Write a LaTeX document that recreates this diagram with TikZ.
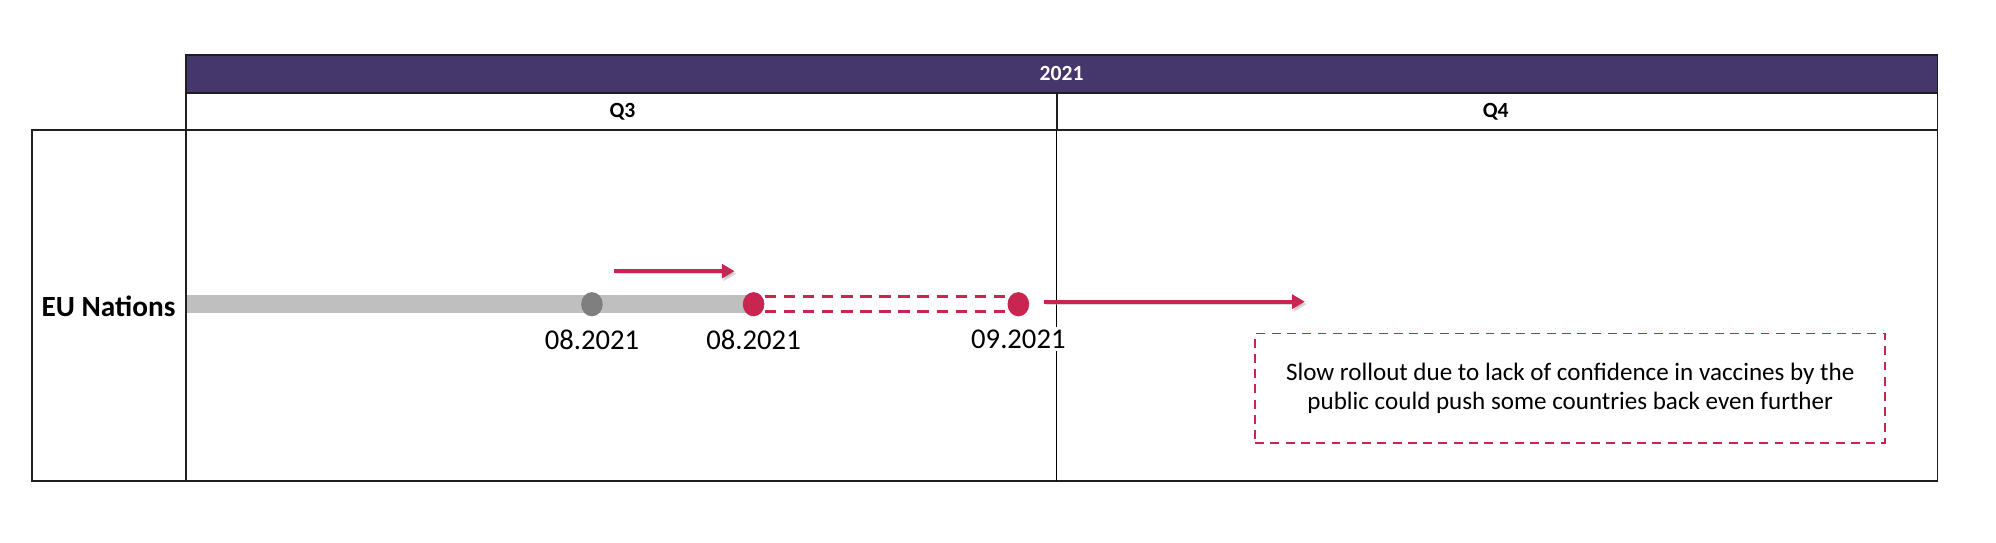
\documentclass[tikz,border=0pt]{standalone}
\usepackage{fontspec}
\setmainfont{Carlito}
\usetikzlibrary{arrows.meta,positioning,backgrounds,shapes.geometric}

\definecolor{hdrpurple}{RGB}{69,54,108}
\definecolor{crim}{RGB}{200,37,80}
\definecolor{bargrey}{RGB}{191,191,191}
\definecolor{dotgrey}{RGB}{127,127,127}

\tikzset{
  frame/.style={line width=1.5pt, draw=black!88},
  hdrtxt/.style={font=\fontsize{17}{20}\selectfont\bfseries, inner sep=0pt},
  rowlbl/.style={font=\fontsize{23}{27}\selectfont\bfseries, inner sep=0pt},
  dot/.style={ellipse, minimum width=17pt, minimum height=19pt, inner sep=0pt},
  datelbl/.style={font=\fontsize{22.5}{26}\selectfont, fill=white, inner sep=2pt},
  movearrow/.style={crim, line width=3pt, -{Triangle[length=10pt,width=11pt]},
    preaction={draw=black!30, opacity=0.5, transform canvas={shift={(1.5pt,-2pt)}}}},
  notebox/.style={draw=crim, line width=1.3pt, dash pattern=on 7pt off 5pt,
    minimum width=495pt, minimum height=86pt, align=center,
    font=\fontsize{19.7}{22.5}\selectfont}
}

\begin{document}
\begin{tikzpicture}[x=1pt,y=-1pt]
  \useasboundingbox (0,0) rectangle (1568,426);
  % header rows
  \fill[hdrpurple] (146,43) rectangle (1522,73);
  \draw[frame] (146,43) rectangle (1522,102);
  \draw[frame] (146,73) -- (1522,73);
  \draw[frame] (830,73) -- (830,102);
  % body
  \draw[frame] (25,102) rectangle (1522,378);
  \draw[frame] (146,102) -- (146,378);
  \draw[line width=0.7pt] (830,102) -- (830,378);
  \node[hdrtxt, text=white] (year) at (834,58) {2021};
  \node[hdrtxt] (qthree) at (489,88) {Q3};
  \node[hdrtxt] (qfour) at (1175,88) {Q4};
  \node[rowlbl, anchor=east] (eu) at (138,241) {EU Nations};
  % milestones
  \coordinate (barstart) at (146,239);
  \node[dot, fill=dotgrey] (gdot) at (465,239) {};
  \node[dot, fill=crim] (rdotA) at (592,239) {};
  \node[dot, fill=crim] (rdotB) at (800,239) {};
  \begin{scope}[on background layer]
    \draw[bargrey, line width=14pt] (barstart) -- (rdotA.center);
  \end{scope}
  \draw[crim, line width=2.5pt, dash pattern=on 9pt off 6pt]
    ([yshift=6pt]rdotA.east) -- ([yshift=6pt]rdotB.west);
  \draw[crim, line width=2.5pt, dash pattern=on 9pt off 6pt]
    ([yshift=-6pt]rdotA.east) -- ([yshift=-6pt]rdotB.west);
  \node[datelbl, below=8pt of gdot] (gdotlbl) {08.2021};
  \node[datelbl, below=8pt of rdotA] (rdotAlbl) {08.2021};
  \node[datelbl, below=8pt of rdotB] (rdotBlbl) {09.2021};
  % delay arrows
  \coordinate (shiftA) at (482,213);
  \coordinate (shiftAend) at (577,213);
  \coordinate (shiftB) at (820,237);
  \coordinate (shiftBend) at (1025,237);
  \draw[movearrow] (shiftA) -- (shiftAend);
  \draw[movearrow] (shiftB) -- (shiftBend);
  % note
  \node[notebox] (note) at (1233.5,305) {Slow rollout due to lack of confidence in vaccines by the\\public could push some countries back even further};
\end{tikzpicture}
\end{document}
